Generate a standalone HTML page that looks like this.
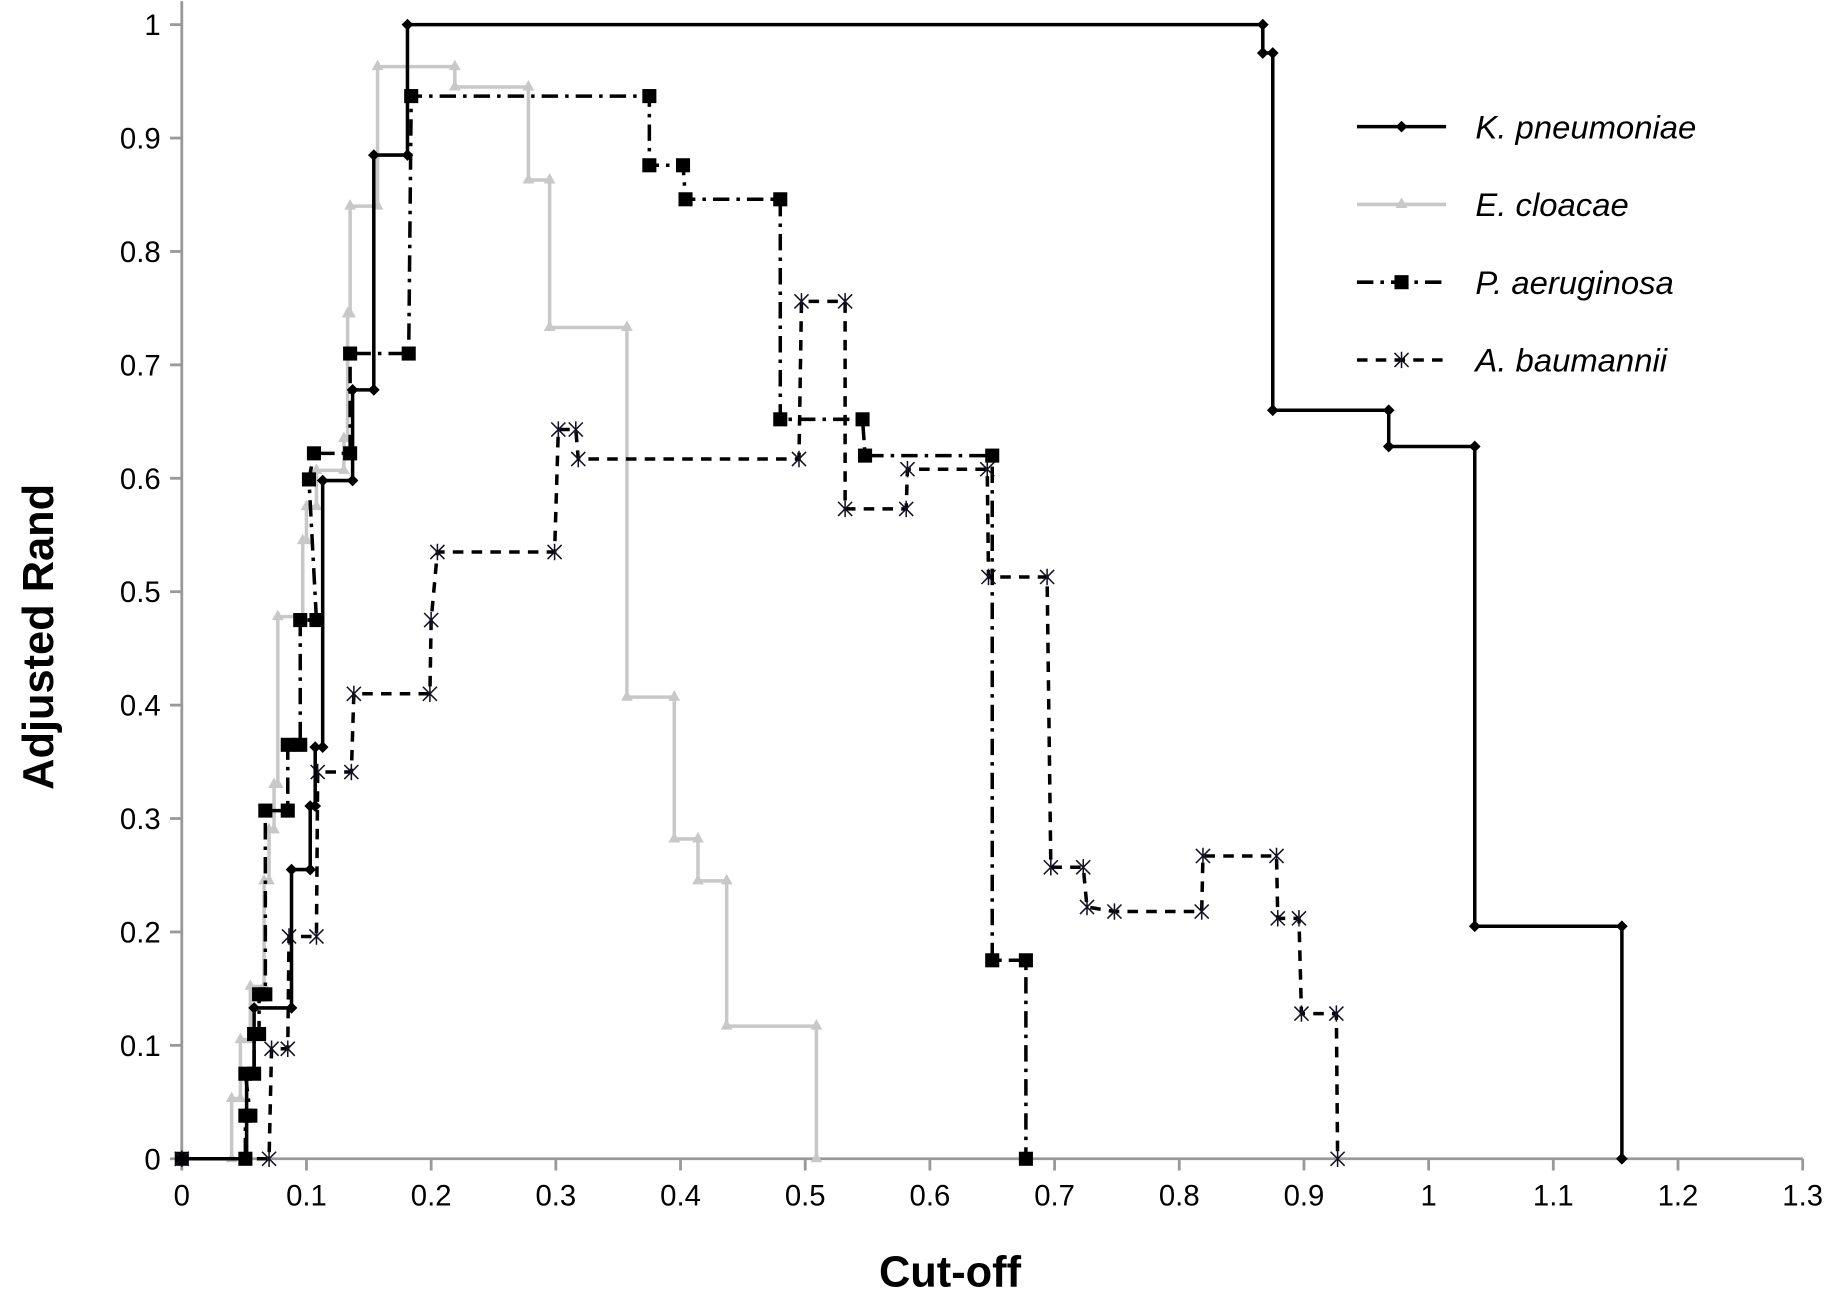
<!DOCTYPE html>
<html><head><meta charset="utf-8"><style>
html,body{margin:0;padding:0;background:#fff;}
svg{display:block;}
text{font-family:"Liberation Sans",sans-serif;}
</style></head><body>
<svg id="chart" width="1839" height="1296" viewBox="0 0 1568 1105" xmlns="http://www.w3.org/2000/svg">
<g id="axes"></g>
<g id="series"></g>
<g id="legend"></g>
<text x="0" y="0" transform="translate(45,543) rotate(-90)" text-anchor="middle" font-size="37" font-weight="bold">Adjusted Rand</text>
<text x="810" y="1097" text-anchor="middle" font-size="37" font-weight="bold">Cut-off</text>
</svg>
<script>
const xTicks = [0,0.1,0.2,0.3,0.4,0.5,0.6,0.7,0.8,0.9,1,1.1,1.2,1.3];
const xTickLabels = ["0","0.1","0.2","0.3","0.4","0.5","0.6","0.7","0.8","0.9","1","1.1","1.2","1.3"];
const yTicks = [0,0.1,0.2,0.3,0.4,0.5,0.6,0.7,0.8,0.9,1];
const yTickLabels = ["0","0.1","0.2","0.3","0.4","0.5","0.6","0.7","0.8","0.9","1"];
const seriesNames = ["K. pneumoniae","E. cloacae","P. aeruginosa","A. baumannii"];

const kX = [0,0.052,0.052,0.058,0.058,0.088,0.088,0.103,0.103,0.107,0.107,0.113,0.113,0.137,0.137,0.154,0.154,0.181,0.181,0.867,0.867,0.875,0.875,0.968,0.968,1.037,1.037,1.155,1.155];
const kY = [0,0,0.075,0.075,0.133,0.133,0.255,0.255,0.311,0.311,0.363,0.363,0.598,0.598,0.678,0.678,0.885,0.885,1,1,0.975,0.975,0.66,0.66,0.628,0.628,0.205,0.205,0];

const eX = [0,0.04,0.04,0.047,0.047,0.055,0.055,0.066,0.066,0.07,0.07,0.074,0.074,0.077,0.077,0.097,0.097,0.1,0.1,0.108,0.108,0.13,0.13,0.133,0.133,0.135,0.135,0.157,0.157,0.219,0.219,0.278,0.278,0.295,0.295,0.357,0.357,0.395,0.395,0.414,0.414,0.437,0.437,0.509,0.509];
const eY = [0,0,0.053,0.053,0.105,0.105,0.152,0.152,0.245,0.245,0.29,0.29,0.33,0.33,0.478,0.478,0.545,0.545,0.575,0.575,0.607,0.607,0.635,0.635,0.745,0.745,0.84,0.84,0.963,0.963,0.945,0.945,0.863,0.863,0.733,0.733,0.407,0.407,0.282,0.282,0.245,0.245,0.117,0.117,0];

const pX = [0,0.051,0.051,0.055,0.051,0.058,0.058,0.062,0.062,0.067,0.067,0.085,0.085,0.095,0.095,0.108,0.102,0.106,0.135,0.135,0.182,0.184,0.375,0.375,0.402,0.404,0.48,0.48,0.546,0.548,0.65,0.65,0.677,0.677];
const pY = [0,0,0.038,0.038,0.075,0.075,0.11,0.11,0.145,0.145,0.307,0.307,0.365,0.365,0.475,0.475,0.599,0.622,0.622,0.71,0.71,0.937,0.937,0.876,0.876,0.846,0.846,0.652,0.652,0.62,0.62,0.175,0.175,0];

const aX = [0,0.07,0.072,0.085,0.086,0.108,0.109,0.136,0.138,0.199,0.2,0.205,0.299,0.302,0.316,0.318,0.495,0.497,0.532,0.532,0.581,0.582,0.646,0.647,0.694,0.697,0.723,0.726,0.748,0.818,0.819,0.878,0.879,0.896,0.898,0.926,0.927];
const aY = [0,0,0.097,0.097,0.196,0.196,0.341,0.341,0.41,0.41,0.475,0.535,0.535,0.643,0.643,0.617,0.617,0.756,0.756,0.573,0.573,0.608,0.608,0.513,0.513,0.257,0.257,0.222,0.218,0.218,0.267,0.267,0.212,0.212,0.128,0.128,0];

const NS = "http://www.w3.org/2000/svg";
const X0 = 155, XU = 1063.1, Y0 = 988, YU = 967;
function sx(v){ return X0 + v * XU; }
function sy(v){ return Y0 - v * YU; }
function mk(tag, attrs, parent){
  const el = document.createElementNS(NS, tag);
  for (const k in attrs) el.setAttribute(k, attrs[k]);
  parent.appendChild(el);
  return el;
}
const axes = document.getElementById('axes');
const ser = document.getElementById('series');
const leg = document.getElementById('legend');

let el;
el = mk('line', {x1:sx(0), y1:sy(0), x2:sx(1.3), y2:sy(0), stroke:'#999', 'stroke-width':2.4}, axes);


el = mk('line', {x1:sx(0), y1:sy(0), x2:sx(0), y2:sy(1)-20, stroke:'#999', 'stroke-width':2.4}, axes);



xTicks.forEach((t, i) => {
  const tk = mk('line', {x1:sx(t), y1:sy(0), x2:sx(t), y2:sy(0)+10, stroke:'#999', 'stroke-width':2.4}, axes);
  
  
  const tx = mk('text', {x:sx(t), y:sy(0)+40, 'text-anchor':'middle', 'font-size':25}, axes);
  tx.textContent = xTickLabels[i];
  
  
});
yTicks.forEach((t, i) => {
  const tk = mk('line', {x1:sx(0)-10, y1:sy(t), x2:sx(0), y2:sy(t), stroke:'#999', 'stroke-width':2.4}, axes);
  
  
  const tx = mk('text', {x:137, y:sy(t)+9, 'text-anchor':'end', 'font-size':25}, axes);
  tx.textContent = yTickLabels[i];
  
  
});

function marker(type, cx, cy, g){
  let m;
  if (type === 'diamond') {
    m = mk('polygon', {points:`${cx},${cy-5} ${cx+5},${cy} ${cx},${cy+5} ${cx-5},${cy}`, fill:'#000'}, g);
  } else if (type === 'tri') {
    m = mk('polygon', {points:`${cx},${cy-6} ${cx+5},${cy+3} ${cx-5},${cy+3}`, fill:'#c8c8c8'}, g);
  } else if (type === 'square') {
    m = mk('rect', {x:cx-6, y:cy-6, width:12, height:12, fill:'#000'}, g);
  } else {
    m = mk('path', {d:`M${cx-6},${cy-6}L${cx+6},${cy+6}M${cx-6},${cy+6}L${cx+6},${cy-6}M${cx},${cy-7}L${cx},${cy+7}`, stroke:'#112', 'stroke-width':1.3, fill:'none'}, g);
  }
  return m;
}

const defs = [
  {xs:eX, ys:eY, color:'#c8c8c8', dash:'', m:'tri', name:'e-cloacae'},
  {xs:pX, ys:pY, color:'#000', dash:'14 6 3 6', m:'square', name:'p-aeruginosa'},
  {xs:aX, ys:aY, color:'#000', dash:'9 7', m:'star', name:'a-baumannii'},
  {xs:kX, ys:kY, color:'#000', dash:'', m:'diamond', name:'k-pneumoniae'}
];
defs.forEach(d => {
  const g = mk('g', {}, ser);
  
  
  const pts = d.xs.map((x, i) => sx(x) + ',' + sy(d.ys[i])).join(' ');
  const pl = mk('polyline', {points:pts, fill:'none', stroke:d.color, 'stroke-width':3}, g);
  if (d.dash) pl.setAttribute('stroke-dasharray', d.dash);
  
  
  d.xs.forEach((x, i) => {
    const m = marker(d.m, sx(x), sy(d.ys[i]), g);
    
    
  });
});

const legStyles = [
  {color:'#000', dash:'', m:'diamond', name:'legend-k-pneumoniae'},
  {color:'#c8c8c8', dash:'', m:'tri', name:'legend-e-cloacae'},
  {color:'#000', dash:'14 6 3 6', m:'square', name:'legend-p-aeruginosa'},
  {color:'#000', dash:'9 7', m:'star', name:'legend-a-baumannii'}
];
seriesNames.forEach((n, i) => {
  const y = 108 + i * 66.3;
  const g = mk('g', {}, leg);
  
  
  const ln = mk('line', {x1:1157, y1:y, x2:1233, y2:y, stroke:legStyles[i].color, 'stroke-width':3}, g);
  if (legStyles[i].dash) ln.setAttribute('stroke-dasharray', legStyles[i].dash);
  
  
  const m = marker(legStyles[i].m, 1195, y, g);
  
  
  const t = mk('text', {x:1258, y:y+10, 'font-size':28, 'font-style':'italic'}, g);
  t.textContent = n;
  
  
});
</script>
</body></html>
